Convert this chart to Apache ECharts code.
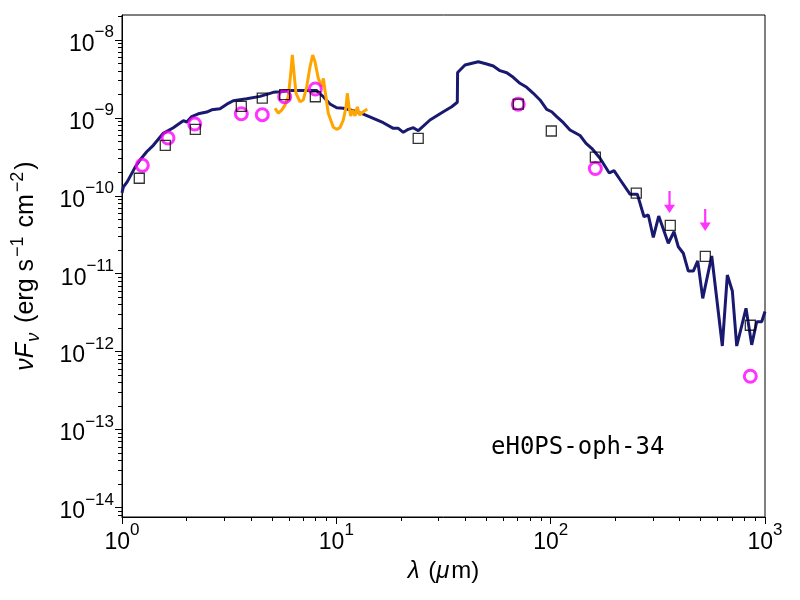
<!DOCTYPE html>
<html>
<head>
<meta charset="utf-8">
<script src="https://cdn.jsdelivr.net/npm/echarts@6/dist/echarts.min.js"></script>
<style>
  html, body { margin: 0; padding: 0; background: #fff; }
  #chart { width: 800px; height: 600px; }
</style>
</head>
<body>
<div id="chart"></div>
<script>
// wavelength (micron) and nu F_nu (erg s^-1 cm^-2)
var modelWave = [1.00,1.014,1.059,1.150,1.213,1.304,1.400,1.558,1.735,1.932,2.004,2.115,2.270,2.485,2.622,2.866,3.133,3.306,3.818,4.405,5.08,5.46,6.08,7.01,8.10,8.70,9.34,10.04,10.78,12.00,13.36,14.88,16.56,18.44,19.46,20.54,21.67,22.87,24.13,27.35,31.56,34.54,36.68,36.80,39.84,45.96,50.30,54.0,58.0,62.4,66.9,71.9,77.3,83.0,89.2,95.8,101.1,106.7,114.6,123.1,137.1,146.2,155.4,169.9,187.7,197.5,210.6,234.5,253.7,272.6,285.5,301.2,319.2,353.9,376.3,394.0,415.7,438.7,463.0,485.5,512.3,564.2,632.2,667.2,704.1,738.0,815.5,866.9,914.8,965.2,1000];
var modelFlux = [1.09e-10,1.29e-10,1.52e-10,2.32e-10,2.88e-10,3.68e-10,4.45e-10,6.34e-10,7.49e-10,9.21e-10,8.86e-10,1.04e-9,1.13e-9,1.19e-9,1.27e-9,1.31e-9,1.54e-9,1.66e-9,1.76e-9,1.89e-9,2.13e-9,2.17e-9,2.24e-9,2.24e-9,2.24e-9,1.87e-9,1.51e-9,1.35e-9,1.33e-9,1.24e-9,1.12e-9,9.88e-10,8.68e-10,7.35e-10,7.35e-10,6.53e-10,7.14e-10,7.49e-10,6.85e-10,9.40e-10,1.20e-9,1.39e-9,1.59e-9,3.83e-9,4.78e-9,5.26e-9,4.92e-9,4.64e-9,4.04e-9,3.80e-9,3.32e-9,2.78e-9,2.47e-9,2.07e-9,1.70e-9,1.29e-9,1.20e-9,1.04e-9,8.68e-10,7.00e-10,5.94e-10,4.72e-10,4.07e-10,3.03e-10,1.96e-10,2.11e-10,1.62e-10,1.05e-10,1.05e-10,5.39e-11,5.67e-11,2.93e-11,5.50e-11,2.46e-11,3.46e-11,2.22e-11,1.83e-11,1.08e-11,1.08e-11,1.46e-11,4.83e-12,1.69e-11,1.18e-12,9.62e-12,6.00e-12,1.18e-12,3.60e-12,1.22e-12,2.42e-12,2.42e-12,3.27e-12];

var specWave = [5.175,5.362,5.561,5.762,5.868,5.970,6.126,6.233,6.348,6.485,6.770,7.013,7.274,7.536,7.758,7.952,8.238,8.543,8.70,8.85,9.17,9.68,10.04,10.40,10.78,11.10,11.25,11.46,11.67,11.92,12.22,12.53,12.80,13.36,13.95];
var specFlux = [1.33e-9,1.15e-9,1.26e-9,1.46e-9,1.39e-9,1.87e-9,3.74e-9,6.42e-9,3.74e-9,2.07e-9,1.61e-9,1.70e-9,2.51e-9,4.54e-9,6.42e-9,5.26e-9,3.22e-9,2.51e-9,3.22e-9,2.28e-9,1.15e-9,7.57e-10,7.14e-10,7.49e-10,9.40e-10,1.39e-9,2.07e-9,1.39e-9,1.06e-9,1.26e-9,1.06e-9,1.39e-9,1.09e-9,1.20e-9,1.30e-9];

var fitWave = [1.204,1.592,2.198,3.603,4.514,5.74,7.98,24.1,70.6,100.7,161.6,250.9,361.5,526.6,854];
var fitFlux = [1.68e-10,4.45e-10,7.14e-10,1.41e-9,1.79e-9,1.99e-9,1.87e-9,5.47e-10,1.50e-9,6.79e-10,3.13e-10,1.08e-10,4.18e-11,1.67e-11,2.18e-12];

var obsWave = [1.244,1.639,2.184,3.603,4.514,5.74,7.98,70.6,161.6,854];
var obsFlux = [2.46e-10,5.52e-10,8.36e-10,1.13e-9,1.10e-9,1.87e-9,2.35e-9,1.50e-9,2.24e-10,4.82e-13];

var limWave = [358.5,526];
var limFlux = [1.15e-10,6.78e-11];

var xMajor = [0, 1, 2, 3];
var yMajor = [-14, -13, -12, -11, -10, -9, -8];
var sourceName = 'eH0PS-oph-34';

function logPairs(xs, ys) {
  return xs.map(function (x, i) { return [Math.log10(x), Math.log10(ys[i])]; });
}
function minorTicks(lo, hi) {
  var out = [];
  for (var n = lo; n < hi; n++) {
    for (var k = 2; k <= 9; k++) out.push(n + Math.log10(k));
  }
  return out;
}
function powLabel(v) {
  var e = Math.round(v);
  var s = e < 0 ? '\u2212' + (-e) : '' + e;
  return '{b|10}{s|' + s + '}';
}

var font = 'Liberation Sans';
var powRich = {
  b: { fontSize: 23, fontFamily: font, color: '#000', lineHeight: 32, verticalAlign: 'bottom' },
  s: { fontSize: 17, fontFamily: font, color: '#000', lineHeight: 17, verticalAlign: 'top' }
};

var chart = echarts.init(document.getElementById('chart'));
var option = {
  animation: false,
  backgroundColor: '#fff',
  title: {
    text: sourceName,
    left: 486,
    top: 431,
    textStyle: { fontFamily: 'DejaVu Sans Mono', fontSize: 24, fontWeight: 'normal', color: '#000' }
  },
  grid: {
    left: 122, right: 35, top: 15, bottom: 83,
    outerBoundsMode: 'none',
    show: true, borderColor: '#000', borderWidth: 1, backgroundColor: 'transparent'
  },
  xAxis: [
    {
      type: 'value', min: 0, max: 3, position: 'bottom',
      name: '{i|\u03bb}{n| (}{i|\u03bc}{n|m)}',
      nameLocation: 'middle', nameGap: 42,
      nameTextStyle: {
        rich: {
          i: { fontSize: 24, fontFamily: font, fontStyle: 'italic', color: '#000', padding: [0, 2, 0, 0] },
          n: { fontSize: 24, fontFamily: font, color: '#000' }
        }
      },
      axisLine: { show: true, onZero: false, lineStyle: { color: '#000', width: 1 } },
      axisTick: { show: true, customValues: xMajor, length: 7, inside: false, lineStyle: { color: '#000', width: 1 } },
      axisLabel: { customValues: xMajor, formatter: powLabel, rich: powRich, margin: 5 },
      splitLine: { show: false }
    },
    {
      type: 'value', min: 0, max: 3, position: 'bottom',
      axisLine: { show: false },
      axisTick: { show: true, customValues: minorTicks(0, 3), length: 4, lineStyle: { color: '#000', width: 1 } },
      axisLabel: { show: false },
      splitLine: { show: false }
    }
  ],
  yAxis: [
    {
      type: 'value', min: -14.123, max: -7.679, position: 'left',
      name: '{i|\u03bdF}{sub|\u03bd}{n| (erg s}{sup|\u22121}{n| cm}{sup|\u22122}{n|)}',
      nameLocation: 'middle', nameGap: 79, nameRotate: 90,
      nameTextStyle: {
        rich: {
          i: { fontSize: 25, fontFamily: font, fontStyle: 'italic', color: '#000', lineHeight: 34, verticalAlign: 'middle' },
          n: { fontSize: 25, fontFamily: font, color: '#000', lineHeight: 34, verticalAlign: 'middle' },
          sub: { fontSize: 18, fontFamily: font, fontStyle: 'italic', color: '#000', lineHeight: 18, verticalAlign: 'bottom', padding: [0, 3, 0, 1] },
          sup: { fontSize: 18, fontFamily: font, color: '#000', lineHeight: 18, verticalAlign: 'top', padding: [0, 2, 0, 2] }
        }
      },
      axisLine: { show: true, onZero: false, lineStyle: { color: '#000', width: 1 } },
      axisTick: { show: true, customValues: yMajor, length: 7, lineStyle: { color: '#000', width: 1 } },
      axisLabel: { customValues: yMajor, formatter: powLabel, rich: powRich, margin: 8 },
      splitLine: { show: false }
    },
    {
      type: 'value', min: -14.123, max: -7.679, position: 'left',
      axisLine: { show: false },
      axisTick: { show: true, customValues: minorTicks(-15, -7), length: 4, lineStyle: { color: '#000', width: 1 } },
      axisLabel: { show: false },
      splitLine: { show: false }
    }
  ],
  series: [
    {
      name: 'model', type: 'line', data: logPairs(modelWave, modelFlux),
      showSymbol: false, symbol: 'none',
      lineStyle: { color: '#191970', width: 3 }, z: 2
    },
    {
      name: 'spectrum', type: 'line', data: logPairs(specWave, specFlux),
      showSymbol: false, symbol: 'none',
      lineStyle: { color: '#ffa500', width: 3 }, z: 3
    },
    {
      name: 'observed', type: 'scatter', data: logPairs(obsWave, obsFlux),
      symbol: 'circle', symbolSize: 12,
      itemStyle: { color: 'transparent', borderColor: '#ff00ff', borderWidth: 3 }, z: 4
    },
    {
      name: 'fit', type: 'scatter', data: logPairs(fitWave, fitFlux),
      symbol: 'rect', symbolSize: 10,
      itemStyle: { color: 'transparent', borderColor: '#000', borderWidth: 1.3 }, z: 5
    },
    {
      name: 'upper limit', type: 'scatter', data: logPairs(limWave, limFlux),
      symbol: 'path://M4,0 L6,0 L6,13 L10,13 L5,21 L0,13 L4,13 Z',
      symbolSize: [11, 22], symbolOffset: [0, '50%'],
      itemStyle: { color: '#ff00ff' }, z: 5
    }
  ]
};
chart.setOption(option);
</script>
</body>
</html>
